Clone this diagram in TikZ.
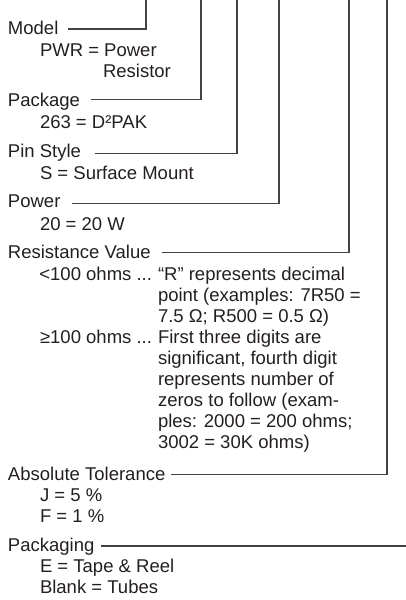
\documentclass[tikz,border=0pt]{standalone}
\usepackage{fontspec}
\setmainfont{Liberation Sans}
\definecolor{ink}{HTML}{231F20}
\begin{document}
\begin{tikzpicture}[x=1pt,y=-1pt,
  txt/.style={anchor=base west,inner sep=0pt,outer sep=0pt,text=ink,font=\fontsize{18.5}{21}\selectfont},
  rtxt/.style={txt,anchor=base east},
  conn/.style={draw=ink!85,line width=1.2pt}]
\useasboundingbox (0,0) rectangle (406,600);
% top ends of the leader lines
\coordinate (tA) at (146,-2);
\coordinate (tB) at (201,-2);
\coordinate (tC) at (237,-2);
\coordinate (tD) at (279,-2);
\coordinate (tE) at (349,-2);
\coordinate (tF) at (387,-2);
% Model
\node[txt] (model) at (8,34.5) {Model};
\node[txt] (pwr) at (40,56) {PWR = Power};
\node[txt] (res) at (103,77.3) {Resistor};
% Package
\node[txt] (pkg) at (8,106) {Package};
\node[txt] (d2pak) at (40,128) {263 = D²PAK};
% Pin style
\node[txt] (pin) at (8,157.3) {Pin Style};
\node[txt] (smt) at (40,179) {S = Surface Mount};
% Power
\node[txt] (pow) at (8,207.3) {Power};
\node[txt] (w20) at (40,230) {20 = 20 W};
% Resistance value
\node[txt] (rv) at (8,258.3) {Resistance Value};
\node[rtxt] (lt) at (152,280) {<100 ohms ...};
\node[txt] (lt1) at (158,280) {“R” represents decimal};
\node[txt] (lt2) at (158,301.2) {point (examples: 7R50 =};
\node[txt] (lt3) at (158,322.3) {7.5 Ω; R500 = 0.5 Ω)};
\node[rtxt] (ge) at (152,343.4) {≥100 ohms ...};
\node[txt] (ge1) at (158,343.4) {First three digits are};
\node[txt] (ge2) at (158,364.5) {significant, fourth digit};
\node[txt] (ge3) at (158,385.6) {represents number of};
\node[txt] (ge4) at (158,406.7) {zeros to follow (exam-};
\node[txt] (ge5) at (158,427.6) {ples: 2000 = 200 ohms;};
\node[txt] (ge6) at (158,448.6) {3002 = 30K ohms)};
% Absolute tolerance
\node[txt] (tol) at (8,480) {Absolute Tolerance};
\node[txt] (j5) at (40,501.7) {J = 5 \%};
\node[txt] (f1) at (40,522.6) {F = 1 \%};
% Packaging
\node[txt] (pkging) at (8,551) {Packaging};
\node[txt] (tape) at (40,572.7) {E = Tape \& Reel};
\node[txt] (blank) at (40,593.6) {Blank = Tubes};
\coordinate (tG) at (406,546);
% leader lines
\draw[conn] ([xshift=10pt,yshift=5.5pt]model.base east) -| (tA);
\draw[conn] ([xshift=11pt,yshift=6.5pt]pkg.base east) -| (tB);
\draw[conn] ([xshift=14pt,yshift=3.5pt]pin.base east) -| (tC);
\draw[conn] ([xshift=12pt,yshift=3.5pt]pow.base east) -| (tD);
\draw[conn] ([xshift=11pt,yshift=5.5pt]rv.base east) -| (tE);
\draw[conn] ([xshift=6pt,yshift=5.5pt]tol.base east) -| (tF);
\draw[conn] ([xshift=7pt]pkging.base east |- tG) -- (tG);
\end{tikzpicture}
\end{document}
